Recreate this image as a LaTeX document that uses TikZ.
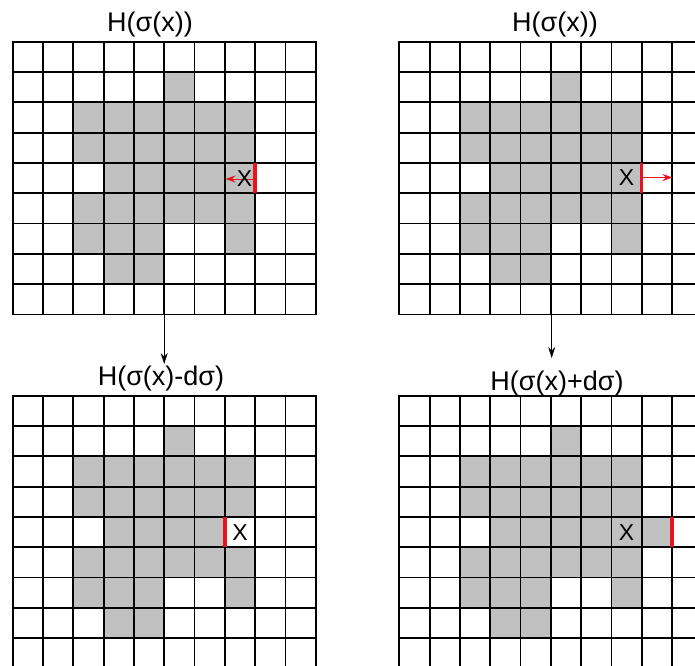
\documentclass[tikz,border=0pt]{standalone}
\usepackage{fontspec}
\setmainfont{Liberation Sans}
\usetikzlibrary{arrows.meta}
\definecolor{cellgray}{RGB}{192,192,192}
\definecolor{markred}{RGB}{230,20,30}
\newcommand\cellsz{30.3}
\newcommand\drawgridcells[1]{%
  \foreach \c/\r in {5/1,2/2,3/2,4/2,5/2,6/2,7/2,2/3,3/3,4/3,5/3,6/3,7/3,2/5,3/5,4/5,5/5,6/5,7/5,2/6,3/6,4/6,7/6,3/7,4/7,#1}
    \fill[cellgray] (\c*\cellsz,\r*\cellsz) rectangle ++(\cellsz,\cellsz);
  \foreach \i in {0,...,10}
    \draw[gridline] (\i*\cellsz,0) -- (\i*\cellsz,9*\cellsz);
  \foreach \j in {0,...,9}
    \draw[gridline] (0,\j*\cellsz) -- (10*\cellsz,\j*\cellsz);
}
\begin{document}
\begin{tikzpicture}[x=1pt,y=-1pt,
  gridline/.style={black,line width=1.8pt,line cap=rect},
  lbl/.style={inner sep=0pt,anchor=base,font=\fontsize{27}{30}\selectfont},
  xlbl/.style={inner sep=0pt,font=\fontsize{23}{25}\selectfont},
  redbar/.style={markred,line width=3.4pt},
  redarrow/.style={markred,line width=1pt,-{Stealth[length=10pt,width=7pt]}},
  downarrow/.style={black,line width=1pt,-{Stealth[length=11pt,width=7pt]}}]
\useasboundingbox (0,0) rectangle (695,665);
\clip (0,0) rectangle (695,665);
\fill[white] (0,0) rectangle (695,665);
% grids
\begin{scope}[shift={(12.7,41.7)}]
  \drawgridcells{3/4,4/4,5/4,6/4,7/4}
\end{scope}
\begin{scope}[shift={(399.3,41.7)}]
  \drawgridcells{3/4,4/4,5/4,6/4,7/4}
\end{scope}
\begin{scope}[shift={(12.7,395.7)}]
  \drawgridcells{3/4,4/4,5/4,6/4}
\end{scope}
\begin{scope}[shift={(399.3,395.7)}]
  \drawgridcells{3/4,4/4,5/4,6/4,7/4,8/4}
\end{scope}
% labels
\node[lbl] (lTL) at (150,31.5) {H(σ(x))};
\node[lbl] (lTR) at (555,31.5) {H(σ(x))};
\node[lbl] (lBL) at (161,385) {H(σ(x)-dσ)};
\node[lbl] (lBR) at (557,390) {H(σ(x)+dσ)};
% down arrows
\coordinate (sTL) at (164.2,314.4);
\coordinate (eTL) at (164.2,364);
\coordinate (sTR) at (551.7,314.4);
\coordinate (eTR) at (551.7,358);
\draw[downarrow] (sTL) -- (eTL);
\draw[downarrow] (sTR) -- (eTR);
% top-left marks
\coordinate (bTLa) at (255.1,162.9);
\coordinate (bTLb) at (255.1,193.2);
\coordinate (bTLm) at (255.1,179);
\coordinate (tTL) at (225.5,179);
\draw[redarrow] (bTLm) -- (tTL);
\node[xlbl] (xTL) at (244.5,178.5) {X};
\draw[redbar] (bTLa) -- (bTLb);
% top-right marks
\coordinate (bTRa) at (641.7,162.9);
\coordinate (bTRb) at (641.7,193.2);
\coordinate (bTRm) at (641.7,177.5);
\coordinate (tTR) at (672.5,177.5);
\draw[redarrow] (bTRm) -- (tTR);
\node[xlbl] (xTR) at (626.5,178) {X};
\draw[redbar] (bTRa) -- (bTRb);
% bottom-left marks
\coordinate (bBLa) at (224.8,516.9);
\coordinate (bBLb) at (224.8,547.2);
\draw[redbar] (bBLa) -- (bBLb);
\node[xlbl] (xBL) at (240,532.5) {X};
% bottom-right marks
\coordinate (bBRa) at (672.0,516.9);
\coordinate (bBRb) at (672.0,547.2);
\draw[redbar] (bBRa) -- (bBRb);
\node[xlbl] (xBR) at (626.5,533) {X};
\end{tikzpicture}
\end{document}
